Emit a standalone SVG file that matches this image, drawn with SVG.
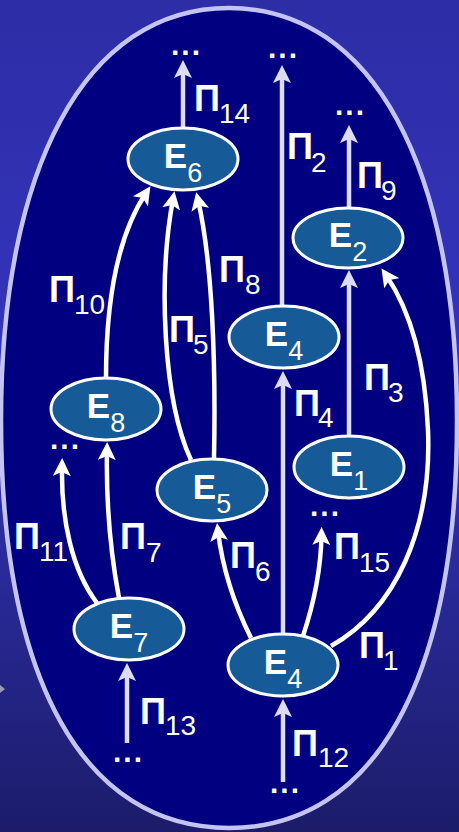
<svg xmlns="http://www.w3.org/2000/svg" width="459" height="832" viewBox="0 0 459 832">
<defs>
<linearGradient id="bg" x1="0" y1="0" x2="0" y2="1">
<stop offset="0" stop-color="#2d2da6"/>
<stop offset="0.45" stop-color="#3434be"/>
<stop offset="1" stop-color="#1c1c6a"/>
</linearGradient>
<marker id="ahW" markerUnits="userSpaceOnUse" markerWidth="18" markerHeight="18" viewBox="0 0 18 18" refX="10" refY="9" orient="auto">
<path d="M18,9 L0,0 L4,9 L0,18 Z" fill="#ffffff"/>
</marker>
<marker id="ahL" markerUnits="userSpaceOnUse" markerWidth="18" markerHeight="18" viewBox="0 0 18 18" refX="10" refY="9" orient="auto">
<path d="M18,9 L0,0 L4,9 L0,18 Z" fill="#dcdcf4"/>
</marker>
</defs>
<style>
.node ellipse{fill:#175a98;stroke:#ffffff;stroke-width:3}
.node text{font-family:"Liberation Sans",Arial,sans-serif;fill:#ffffff;text-anchor:middle}
.E{font-size:35px;font-weight:bold}
.sub{font-size:27px;font-weight:normal}
.w{fill:none;stroke:#ffffff;stroke-width:4.5;marker-end:url(#ahW)}
.l{fill:none;stroke:#dcdcf4;stroke-width:4.5;marker-end:url(#ahL)}
.lbl{font-family:"Liberation Sans",Arial,sans-serif;fill:#ffffff;font-size:36px;font-weight:bold}
.lbl tspan{font-size:28px;font-weight:normal}
.dots{font-family:"Liberation Sans",Arial,sans-serif;fill:#ffffff;font-size:30px;font-weight:bold;letter-spacing:2px}
</style>
<rect x="0" y="0" width="459" height="832" fill="url(#bg)"/>
<polygon points="0,685 5,689 0,693" fill="#9a9ab8"/>
<path id="frame" d="M229,8 C374,8 457,170 457,420 C457,681 374,828 229,828 C84,828 1,681 1,420 C1,170 84,8 229,8 Z" fill="#000080" stroke="#c4c4f2" stroke-width="4.5"/>
<g id="connectors">
<path class="l" d="M183,128 V68"/>
<path class="l" d="M282,306 V73"/>
<path class="l" d="M349,208 V133"/>
<path class="l" d="M349,436 V278"/>
<path class="l" d="M283,634 V379"/>
<path class="l" d="M127,743 V671"/>
<path class="l" d="M283,782 V707"/>
<path class="w" d="M106,378 C106,300 118,235 146,193"/>
<path class="w" d="M191,460 C163,400 158,280 173,199"/>
<path class="w" d="M214,458 C216,360 212,260 198,200"/>
<path class="w" d="M119,598 C110,550 106,500 107,450"/>
<path class="w" d="M97,603 C72,570 61,520 62,466"/>
<path class="w" d="M251,638 C232,600 222,565 218,531"/>
<path class="w" d="M303,636 C315,600 321,565 321.5,535"/>
<path class="w" d="M331,646 C395,610 432,530 428,430 C425,360 410,310 386,275"/>
</g>
<g id="labels">
<text class="lbl" x="194" y="111">Π<tspan x="219" y="123">14</tspan></text>
<text class="lbl" x="287" y="159">Π<tspan x="311" y="172">2</tspan></text>
<text class="lbl" x="357" y="188">Π<tspan x="381" y="200">9</tspan></text>
<text class="lbl" x="219" y="282">Π<tspan x="245" y="294">8</tspan></text>
<text class="lbl" x="49" y="302">Π<tspan x="74" y="314">10</tspan></text>
<text class="lbl" x="169" y="342">Π<tspan x="193" y="354">5</tspan></text>
<text class="lbl" x="294" y="416">Π<tspan x="318" y="427">4</tspan></text>
<text class="lbl" x="364" y="390">Π<tspan x="388" y="402">3</tspan></text>
<text class="lbl" x="14" y="549">Π<tspan x="39" y="561">11</tspan></text>
<text class="lbl" x="120" y="549">Π<tspan x="146" y="562">7</tspan></text>
<text class="lbl" x="230" y="568">Π<tspan x="255" y="581">6</tspan></text>
<text class="lbl" x="334" y="559">Π<tspan x="359" y="572">15</tspan></text>
<text class="lbl" x="359" y="658">Π<tspan x="383" y="670">1</tspan></text>
<text class="lbl" x="140" y="724">Π<tspan x="165" y="735">13</tspan></text>
<text class="lbl" x="292" y="756">Π<tspan x="318" y="767">12</tspan></text>
</g>
<g id="ellipses">
<text class="dots" x="171" y="55">...</text>
<text class="dots" x="268" y="58">...</text>
<text class="dots" x="335" y="115">...</text>
<text class="dots" x="50" y="449">...</text>
<text class="dots" x="310" y="516">...</text>
<text class="dots" x="113" y="762">...</text>
<text class="dots" x="270" y="793">...</text>
</g>
<g id="E6" class="node"><ellipse cx="183" cy="159" rx="55" ry="31"/><text x="183" y="168"><tspan class="E">E</tspan><tspan class="sub" dy="14">6</tspan></text></g>
<g id="E2" class="node"><ellipse cx="348" cy="238" rx="55" ry="30"/><text x="348" y="247"><tspan class="E">E</tspan><tspan class="sub" dy="14">2</tspan></text></g>
<g id="E4_upper" class="node"><ellipse cx="284" cy="337" rx="55" ry="31"/><text x="284" y="346"><tspan class="E">E</tspan><tspan class="sub" dy="14">4</tspan></text></g>
<g id="E8" class="node"><ellipse cx="106" cy="409" rx="55" ry="31"/><text x="106" y="418"><tspan class="E">E</tspan><tspan class="sub" dy="14">8</tspan></text></g>
<g id="E1" class="node"><ellipse cx="349" cy="467" rx="55" ry="31"/><text x="349" y="476"><tspan class="E">E</tspan><tspan class="sub" dy="14">1</tspan></text></g>
<g id="E5" class="node"><ellipse cx="212" cy="490" rx="55" ry="31"/><text x="212" y="499"><tspan class="E">E</tspan><tspan class="sub" dy="14">5</tspan></text></g>
<g id="E7" class="node"><ellipse cx="129" cy="629" rx="55" ry="31"/><text x="129" y="638"><tspan class="E">E</tspan><tspan class="sub" dy="14">7</tspan></text></g>
<g id="E4_lower" class="node"><ellipse cx="283" cy="665" rx="55" ry="31"/><text x="283" y="674"><tspan class="E">E</tspan><tspan class="sub" dy="14">4</tspan></text></g>
</svg>
